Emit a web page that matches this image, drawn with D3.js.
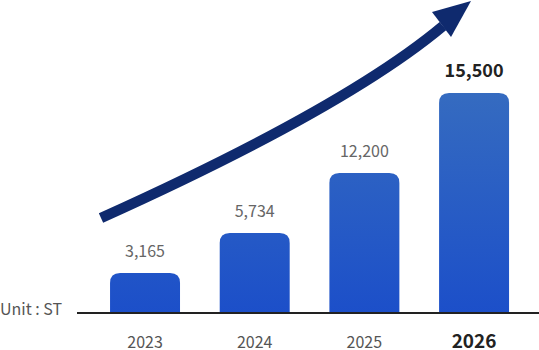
<!DOCTYPE html>
<html><head><meta charset="utf-8">
<script src="https://cdn.jsdelivr.net/npm/d3@7/dist/d3.min.js"></script>
<style>
html,body{margin:0;padding:0;background:#fff;}
svg{display:block;font-family:"Noto Sans CJK KR","Noto Sans",sans-serif;}
</style></head><body>
<svg id="chart" width="539" height="350"></svg>
<script>
// Data
const years = ["2023", "2024", "2025", "2026"];
const valueLabels = ["3,165", "5,734", "12,200", "15,500"];
// bar magnitudes as drawn in the picture (same units as labels)
const barValues = [2820, 5640, 9860, 15500];
const unitLabel = "Unit : ST";
const highlightYear = "2026";

const W = 539, H = 350;
const svg = d3.select("#chart");

const x = d3.scaleBand().domain(years).range([90.3, 528.8]).paddingInner(0.362).paddingOuter(0.18);
const y = d3.scaleLinear().domain([0, 15500]).range([313, 93]);

const defs = svg.append("defs");
const grad = defs.append("linearGradient").attr("id", "barGrad")
  .attr("gradientUnits", "userSpaceOnUse")
  .attr("x1", 0).attr("y1", y(15500)).attr("x2", 0).attr("y2", y(0));
grad.append("stop").attr("offset", "0%").attr("stop-color", "#356bc0");
grad.append("stop").attr("offset", "100%").attr("stop-color", "#1c4fc9");

const r = 10;
function topRounded(x0, y0, w, h) {
  const rr = Math.min(r, h, w / 2);
  return `M${x0},${y0 + h}V${y0 + rr}Q${x0},${y0} ${x0 + rr},${y0}H${x0 + w - rr}Q${x0 + w},${y0} ${x0 + w},${y0 + rr}V${y0 + h}Z`;
}

svg.append("g").selectAll("path").data(years).join("path")
  .attr("d", (d, i) => topRounded(x(d), y(barValues[i]), x.bandwidth(), y(0) - y(barValues[i])))
  .attr("fill", "url(#barGrad)");

// axis line
svg.append("line").attr("x1", 77).attr("x2", W).attr("y1", y(0)).attr("y2", y(0))
  .attr("stroke", "#222").attr("stroke-width", 2);

// value labels
svg.append("g").selectAll("text").data(years).join("text")
  .attr("x", d => x(d) + x.bandwidth() / 2)
  .attr("y", (d, i) => y(barValues[i]) - 16)
  .attr("text-anchor", "middle")
  .attr("font-size", d => d === highlightYear ? 18 : 16)
  .attr("font-weight", d => d === highlightYear ? 700 : 400)
  .attr("fill", d => d === highlightYear ? "#222" : "#666")
  .text((d, i) => valueLabels[i]);

// year labels
svg.append("g").selectAll("text").data(years).join("text")
  .attr("x", d => x(d) + x.bandwidth() / 2)
  .attr("y", 348)
  .attr("text-anchor", "middle")
  .attr("font-size", d => d === highlightYear ? 19 : 16)
  .attr("font-weight", d => d === highlightYear ? 700 : 400)
  .attr("fill", d => d === highlightYear ? "#222" : "#555")
  .text(d => d);

// unit
svg.append("text").attr("x", 0).attr("y", 315).attr("font-size", 16).attr("fill", "#555").text(unitLabel);

// trend arrow
const p0 = [101, 218], c = [345, 108], p1 = [443, 26];
const path = d3.path();
path.moveTo(p0[0], p0[1]);
path.quadraticCurveTo(c[0], c[1], p1[0], p1[1]);
svg.append("path").attr("d", path.toString()).attr("fill", "none")
  .attr("stroke", "#0f2a6e").attr("stroke-width", 10.5);
svg.append("path").attr("d", "M471,1L432,12L451,37Z").attr("fill", "#0f2a6e");
</script>
</body></html>
